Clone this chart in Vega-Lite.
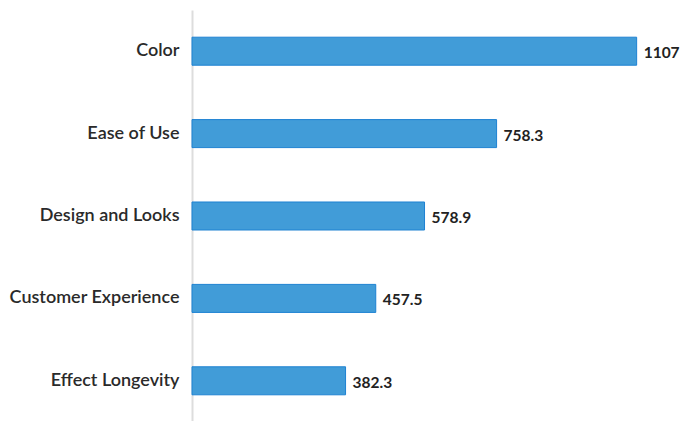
{
  "$schema": "https://vega.github.io/schema/vega-lite/v6.json",
  "width": 482,
  "height": 412,
  "autosize": {"type": "none"},
  "padding": {"left": 192, "top": 10, "right": 8, "bottom": 0},
  "background": "white",
  "config": {"view": {"stroke": null}},
  "data": {
    "values": [
      {"category": "Color", "value": 1107},
      {"category": "Ease of Use", "value": 758.3},
      {"category": "Design and Looks", "value": 578.9},
      {"category": "Customer Experience", "value": 457.5},
      {"category": "Effect Longevity", "value": 382.3}
    ]
  },
  "encoding": {
    "y": {
      "field": "category",
      "type": "nominal",
      "sort": null,
      "scale": {"paddingInner": 0.66, "paddingOuter": 0.33},
      "axis": {
        "title": null,
        "ticks": false,
        "domainColor": "#dddddd",
        "domainWidth": 2,
        "labelFont": "Lato",
        "labelFontSize": 18,
        "labelFontWeight": 600,
        "labelColor": "#2a2a2a",
        "labelPadding": 13,
        "labelLimit": 250
      }
    },
    "x": {
      "field": "value",
      "type": "quantitative",
      "scale": {"domain": [0, 1200]},
      "axis": null
    }
  },
  "layer": [
    {
      "mark": {"type": "bar", "fill": "#419CD8", "stroke": "#1E82D2", "strokeWidth": 1}
    },
    {
      "mark": {"type": "text", "align": "left", "baseline": "middle", "dx": 7, "dy": 2, "font": "Lato", "fontSize": 15.5, "fontWeight": "bold", "color": "#222222"},
      "encoding": {"text": {"field": "value", "type": "quantitative", "format": ".1~f"}}
    }
  ]
}
